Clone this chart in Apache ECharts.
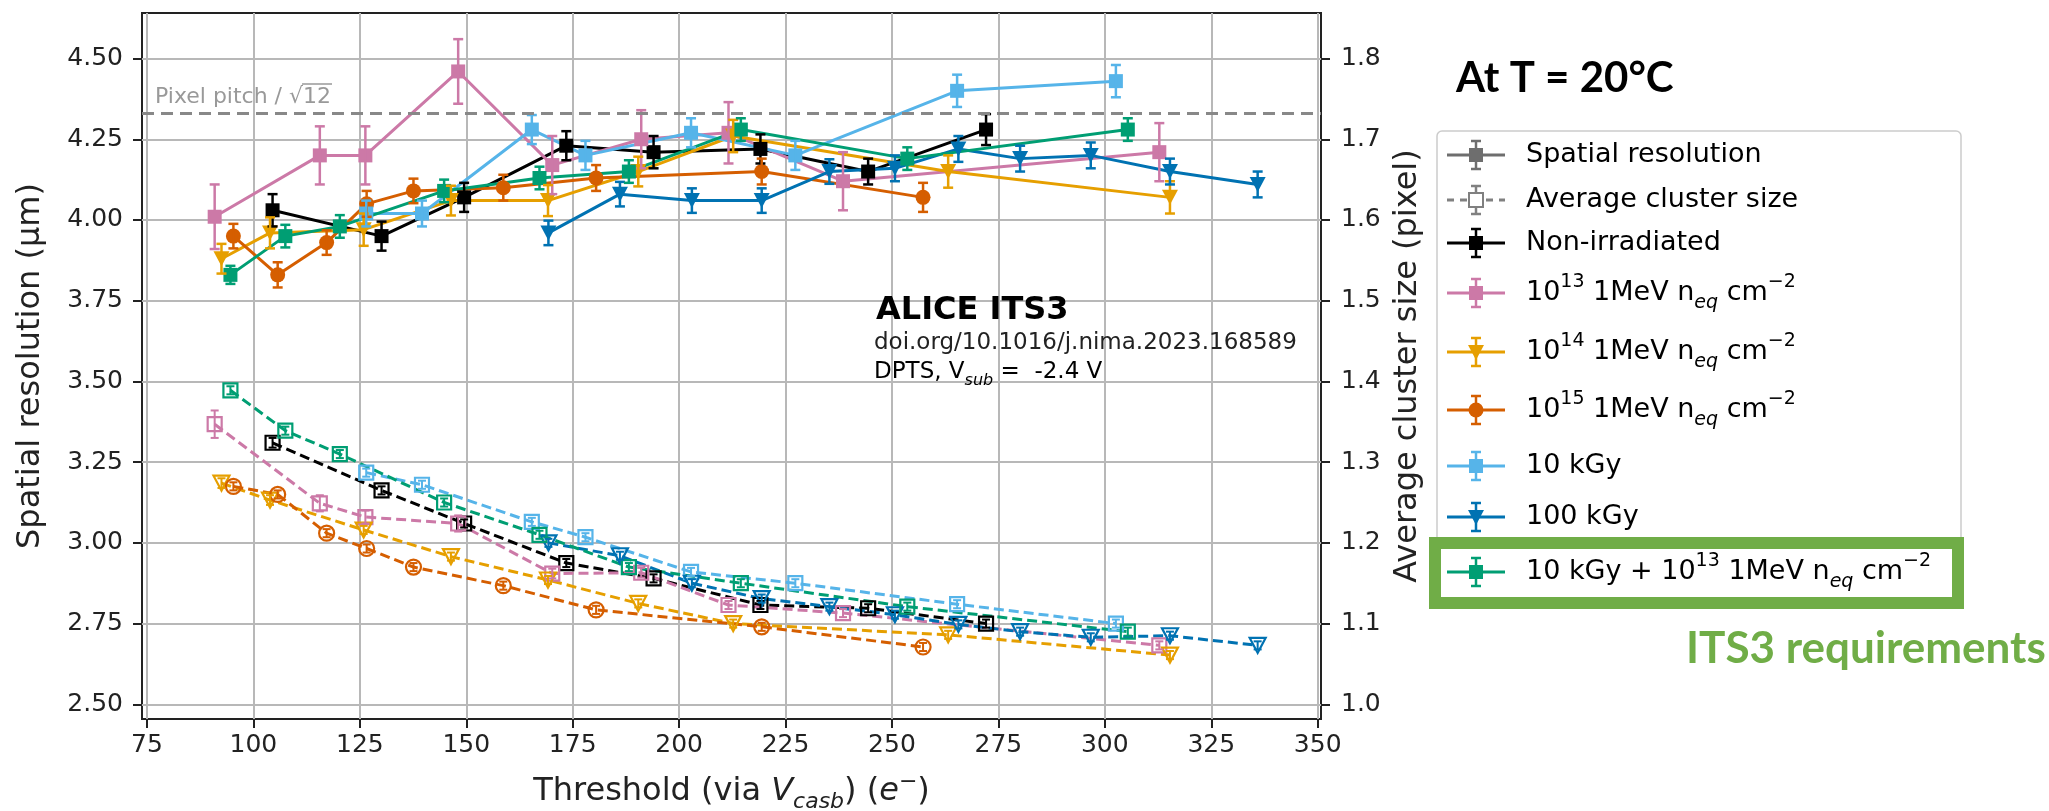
<!DOCTYPE html>
<html><head><meta charset="utf-8">
<script src="https://cdn.jsdelivr.net/npm/echarts@6/dist/echarts.min.js"></script>
<style>html,body{margin:0;padding:0;background:#fff}#c{width:2049px;height:811px}</style>
</head><body><div id="c"></div>
<script>
// ---------- tick labels ----------
const xTicks = [75, 100, 125, 150, 175, 200, 225, 250, 275, 300, 325, 350];
const resTicks = [2.5, 2.75, 3.0, 3.25, 3.5, 3.75, 4.0, 4.25, 4.5];
const clsTicks = [1.0, 1.1, 1.2, 1.3, 1.4, 1.5, 1.6, 1.7, 1.8];
const pixelPitchRes = 4.33; // 15 um / sqrt(12)

// ---------- data: Non-irradiated ----------
const nonIrrX      = [104.5, 130.1, 149.5, 173.5, 194.0, 219.1, 244.4, 272.1];
const nonIrrRes    = [4.03, 3.95, 4.07, 4.23, 4.21, 4.22, 4.15, 4.28];
const nonIrrResErr = [0.05, 0.045, 0.045, 0.045, 0.05, 0.045, 0.04, 0.048];
const nonIrrCls    = [1.324, 1.265, 1.224, 1.175, 1.156, 1.123, 1.119, 1.100];
const nonIrrClsErr = [0.006, 0.005, 0.005, 0.005, 0.005, 0.005, 0.005, 0.005];

// ---------- 1e13 ----------
const neq13X      = [90.9, 115.6, 126.3, 148.1, 170.2, 191.1, 211.6, 238.5, 312.8];
const neq13Res    = [4.01, 4.20, 4.20, 4.46, 4.17, 4.25, 4.27, 4.12, 4.21];
const neq13ResErr = [0.10, 0.09, 0.09, 0.10, 0.09, 0.09, 0.095, 0.09, 0.09];
const neq13Cls    = [1.347, 1.249, 1.232, 1.224, 1.162, 1.163, 1.123, 1.113, 1.073];
const neq13ClsErr = [0.017, 0.010, 0.008, 0.010, 0.006, 0.006, 0.005, 0.005, 0.005];

// ---------- 1e14 ----------
const neq14X      = [92.5, 103.9, 125.9, 146.4, 169.2, 190.4, 212.7, 263.2, 315.3];
const neq14Res    = [3.88, 3.96, 3.97, 4.06, 4.06, 4.15, 4.26, 4.15, 4.07];
const neq14ResErr = [0.046, 0.048, 0.05, 0.046, 0.048, 0.046, 0.05, 0.05, 0.05];
const neq14Cls    = [1.274, 1.253, 1.216, 1.183, 1.154, 1.125, 1.100, 1.086, 1.061];
const neq14ClsErr = [0.006, 0.006, 0.005, 0.005, 0.005, 0.005, 0.005, 0.005, 0.005];

// ---------- 1e15 ----------
const neq15X      = [95.3, 105.7, 117.2, 126.6, 137.6, 158.7, 180.5, 219.4, 257.3];
const neq15Res    = [3.95, 3.83, 3.93, 4.05, 4.09, 4.10, 4.13, 4.15, 4.07];
const neq15ResErr = [0.038, 0.039, 0.038, 0.04, 0.038, 0.04, 0.04, 0.04, 0.045];
const neq15Cls    = [1.270, 1.260, 1.212, 1.193, 1.170, 1.147, 1.117, 1.096, 1.071];
const neq15ClsErr = [0.005, 0.005, 0.005, 0.005, 0.005, 0.005, 0.005, 0.005, 0.005];

// ---------- 10 kGy ----------
const kGy10X      = [126.5, 139.6, 165.4, 178.0, 202.8, 227.3, 265.3, 302.6];
const kGy10Res    = [4.02, 4.02, 4.28, 4.20, 4.27, 4.20, 4.40, 4.43];
const kGy10ResErr = [0.04, 0.04, 0.045, 0.045, 0.045, 0.045, 0.05, 0.05];
const kGy10Cls    = [1.287, 1.272, 1.226, 1.207, 1.164, 1.150, 1.124, 1.100];
const kGy10ClsErr = [0.005, 0.005, 0.005, 0.005, 0.005, 0.005, 0.005, 0.005];

// ---------- 100 kGy ----------
const kGy100X      = [169.3, 186.1, 203.0, 219.4, 235.3, 250.7, 265.6, 280.1, 296.7, 315.3, 335.9];
const kGy100Res    = [3.96, 4.08, 4.06, 4.06, 4.15, 4.16, 4.22, 4.19, 4.20, 4.15, 4.11];
const kGy100ResErr = [0.038, 0.038, 0.038, 0.038, 0.038, 0.04, 0.04, 0.04, 0.04, 0.04, 0.04];
const kGy100Cls    = [1.200, 1.184, 1.150, 1.131, 1.121, 1.111, 1.099, 1.090, 1.083, 1.085, 1.073];
const kGy100ClsErr = [0.005, 0.005, 0.005, 0.005, 0.005, 0.005, 0.005, 0.005, 0.005, 0.005, 0.005];

// ---------- 10 kGy + 1e13 ----------
const comboX      = [94.6, 107.5, 120.3, 144.8, 167.2, 188.2, 214.5, 253.6, 305.4];
const comboRes    = [3.83, 3.95, 3.98, 4.09, 4.13, 4.15, 4.28, 4.19, 4.28];
const comboResErr = [0.028, 0.035, 0.035, 0.035, 0.035, 0.035, 0.035, 0.035, 0.035];
const comboCls    = [1.389, 1.339, 1.310, 1.250, 1.210, 1.170, 1.150, 1.121, 1.090];
const comboClsErr = [0.005, 0.005, 0.005, 0.005, 0.005, 0.005, 0.005, 0.005, 0.005];

const groups = [
  {color:'#000000', marker:'s', x:nonIrrX, res:nonIrrRes, resErr:nonIrrResErr, cls:nonIrrCls, clsErr:nonIrrClsErr},
  {color:'#CC79A7', marker:'s', x:neq13X, res:neq13Res, resErr:neq13ResErr, cls:neq13Cls, clsErr:neq13ClsErr},
  {color:'#E69F00', marker:'v', x:neq14X, res:neq14Res, resErr:neq14ResErr, cls:neq14Cls, clsErr:neq14ClsErr},
  {color:'#D55E00', marker:'o', x:neq15X, res:neq15Res, resErr:neq15ResErr, cls:neq15Cls, clsErr:neq15ClsErr},
  {color:'#56B4E9', marker:'s', x:kGy10X, res:kGy10Res, resErr:kGy10ResErr, cls:kGy10Cls, clsErr:kGy10ClsErr},
  {color:'#0072B2', marker:'v', x:kGy100X, res:kGy100Res, resErr:kGy100ResErr, cls:kGy100Cls, clsErr:kGy100ClsErr},
  {color:'#009E73', marker:'s', x:comboX, res:comboRes, resErr:comboResErr, cls:comboCls, clsErr:comboClsErr}
];

const FONT = 'DejaVu Sans';
const TXT = '#222222';

function sym(m) {
  if (m === 's') return {symbol:'rect', symbolSize:[14,14], symbolRotate:0};
  if (m === 'v') return {symbol:'triangle', symbolSize:[16,15], symbolRotate:180};
  return {symbol:'circle', symbolSize:15, symbolRotate:0};
}

function errSeries(xs, ys, es, color, axis, lw, cap) {
  return {
    type:'custom', yAxisIndex:axis, silent:true, z:4, animation:false,
    data: xs.map((x,i)=>[x, ys[i]-es[i], ys[i]+es[i]]),
    encode:{x:0, y:[1,2]},
    renderItem:(params, api)=>{
      const x = api.value(0);
      const lo = api.coord([x, api.value(1)]);
      const hi = api.coord([x, api.value(2)]);
      const st = {stroke:color, lineWidth:lw};
      return {type:'group', children:[
        {type:'line', shape:{x1:lo[0], y1:lo[1], x2:hi[0], y2:hi[1]}, style:st},
        {type:'line', shape:{x1:lo[0]-cap, y1:lo[1], x2:lo[0]+cap, y2:lo[1]}, style:st},
        {type:'line', shape:{x1:hi[0]-cap, y1:hi[1], x2:hi[0]+cap, y2:hi[1]}, style:st}
      ]};
    }
  };
}

const series = [];
groups.forEach((g) => {
  const s = sym(g.marker);
  series.push(Object.assign({
    type:'line', yAxisIndex:1, silent:true, animation:false, showAllSymbol:true, z:2,
    data: g.x.map((x,i)=>[x, g.cls[i]]),
    lineStyle:{color:g.color, width:3, type:[10,5]},
    itemStyle:{color:'rgba(255,255,255,0)', borderColor:g.color, borderWidth:2.2},
    emphasis:{disabled:true}
  }, s));
  series.push(errSeries(g.x, g.cls, g.clsErr, g.color, 1, 2, 4));
});
groups.forEach((g) => {
  const s = sym(g.marker);
  series.push(Object.assign({
    type:'line', yAxisIndex:0, silent:true, animation:false, showAllSymbol:true, z:3,
    data: g.x.map((x,i)=>[x, g.res[i]]),
    lineStyle:{color:g.color, width:3},
    itemStyle:{color:g.color, borderWidth:0},
    emphasis:{disabled:true}
  }, s));
  series.push(errSeries(g.x, g.res, g.resErr, g.color, 0, 2.5, 5));
});
// pixel pitch reference line
series.push({
  type:'line', yAxisIndex:0, data:[], silent:true, animation:false,
  markLine:{silent:true, symbol:'none', animation:false, label:{show:false},
    lineStyle:{color:'#888888', type:[12,7], width:3},
    data:[{yAxis:pixelPitchRes}]}
});

// ---------- legend (drawn) ----------
const LX0 = 1447, LX1 = 1505, LXM = 1476, LT = 1526;
const legendItems = [
  {y:155, color:'#6e6e6e', m:'s', dashed:false, hollow:false, text:'{b|Spatial resolution}'},
  {y:200, color:'#808080', m:'s', dashed:true, hollow:true, text:'{b|Average cluster size}'},
  {y:243, color:'#000000', m:'s', text:'{b|Non-irradiated}'},
  {y:293, color:'#CC79A7', m:'s', text:'{b|10}{sup|13}{b| 1MeV n}{sub|eq}{b| cm}{sup|−2}'},
  {y:352, color:'#E69F00', m:'v', text:'{b|10}{sup|14}{b| 1MeV n}{sub|eq}{b| cm}{sup|−2}'},
  {y:410, color:'#D55E00', m:'o', text:'{b|10}{sup|15}{b| 1MeV n}{sub|eq}{b| cm}{sup|−2}'},
  {y:466, color:'#56B4E9', m:'s', text:'{b|10 kGy}'},
  {y:517, color:'#0072B2', m:'v', text:'{b|100 kGy}'},
  {y:572, color:'#009E73', m:'s', text:'{b|10 kGy + 10}{sup|13}{b| 1MeV n}{sub|eq}{b| cm}{sup|−2}'}
];
const rich = {
  b:{fontFamily:FONT, fontSize:27, color:TXT, verticalAlign:'middle', lineHeight:40},
  sup:{fontFamily:FONT, fontSize:19, color:TXT, verticalAlign:'top', lineHeight:22},
  sub:{fontFamily:FONT, fontSize:19, color:TXT, verticalAlign:'bottom', lineHeight:24, fontStyle:'italic'}
};
const graphics = [];
graphics.push({type:'rect', z:10, silent:true, shape:{x:1437, y:131, width:524, height:472, r:5},
  style:{fill:'#ffffff', stroke:'#cccccc', lineWidth:1.5}});
graphics.push({type:'rect', z:11, silent:true, shape:{x:1435, y:543, width:523, height:60},
  style:{fill:'#ffffff', stroke:'#70AD47', lineWidth:12}});
legendItems.forEach(it => {
  const y = it.y, c = it.color;
  graphics.push({type:'line', z:12, silent:true, shape:{x1:LX0, y1:y, x2:LX1, y2:y},
    style:{stroke:c, lineWidth:3, lineDash: it.dashed ? [7,6] : null}});
  graphics.push({type:'line', z:12, silent:true, shape:{x1:LXM, y1:y-14, x2:LXM, y2:y+14}, style:{stroke:c, lineWidth:2.5}});
  graphics.push({type:'line', z:12, silent:true, shape:{x1:LXM-5, y1:y-14, x2:LXM+5, y2:y-14}, style:{stroke:c, lineWidth:2.5}});
  graphics.push({type:'line', z:12, silent:true, shape:{x1:LXM-5, y1:y+14, x2:LXM+5, y2:y+14}, style:{stroke:c, lineWidth:2.5}});
  const fill = it.hollow ? '#ffffff' : c;
  const mst = {fill:fill, stroke:c, lineWidth: it.hollow ? 2 : 0};
  if (it.m === 's') graphics.push({type:'rect', z:13, silent:true, shape:{x:LXM-7, y:y-7, width:14, height:14}, style:mst});
  else if (it.m === 'o') graphics.push({type:'circle', z:13, silent:true, shape:{cx:LXM, cy:y, r:7.5}, style:mst});
  else graphics.push({type:'polygon', z:13, silent:true, shape:{points:[[LXM-8,y-7],[LXM+8,y-7],[LXM,y+8]]}, style:mst});
  graphics.push({type:'text', z:13, silent:true, x:LT, y:y,
    style:{text:it.text, rich:rich, align:'left', verticalAlign:'middle'}});
});

// pixel pitch label with a drawn radical overline
const mctx = document.createElement('canvas').getContext('2d');
mctx.font = '22px "DejaVu Sans"';
const ppLead = 'Pixel pitch / √';
const ppW1 = mctx.measureText(ppLead).width;
const ppW2 = mctx.measureText('12').width;
const PPX = 155, PPY = 97;
graphics.push({type:'text', silent:true, z:5, x:PPX, y:PPY,
  style:{text:ppLead, fontFamily:FONT, fontSize:22, fill:'#999999', align:'left', verticalAlign:'middle'}});
graphics.push({type:'text', silent:true, z:5, x:PPX + ppW1, y:PPY,
  style:{text:'12', fontFamily:FONT, fontSize:22, fill:'#999999', align:'left', verticalAlign:'middle'}});
graphics.push({type:'line', silent:true, z:5, shape:{x1:PPX + ppW1 - 1, y1:PPY - 13, x2:PPX + ppW1 + ppW2 + 1, y2:PPY - 13},
  style:{stroke:'#999999', lineWidth:1.5}});

graphics.push({type:'text', silent:true, z:5, x:876, y:311,
  style:{text:'ALICE ITS3', fontFamily:FONT, fontWeight:'bold', fontSize:32, fill:'#000000', align:'left', verticalAlign:'middle'}});
graphics.push({type:'text', silent:true, z:5, x:874, y:343,
  style:{text:'doi.org/10.1016/j.nima.2023.168589', fontFamily:FONT, fontSize:23, fill:TXT, align:'left', verticalAlign:'middle'}});
graphics.push({type:'text', silent:true, z:5, x:874, y:372,
  style:{text:'{b|DPTS, V}{sub|sub}{b| =  -2.4 V}', align:'left', verticalAlign:'middle',
    rich:{b:{fontFamily:FONT, fontSize:23, color:TXT, verticalAlign:'middle', lineHeight:34},
          sub:{fontFamily:FONT, fontSize:16, color:TXT, fontStyle:'italic', verticalAlign:'bottom', lineHeight:21}}}});
graphics.push({type:'text', silent:true, z:5, x:1456, y:78,
  style:{text:'At T = 20°C', fontFamily:'Lato', fontWeight:'bold', fontSize:42, fill:'#000000', align:'left', verticalAlign:'middle'}});
graphics.push({type:'text', silent:true, z:5, x:1686, y:649,
  style:{text:'ITS3 requirements', fontFamily:'Lato', fontWeight:'bold', fontSize:44, fill:'#70AD47', align:'left', verticalAlign:'middle'}});

const axisNameStyle = {fontFamily:FONT, fontSize:32, color:TXT};

const option = {
  backgroundColor:'#ffffff',
  animation:false,
  grid:{left:142, top:13, width:1179, height:706, show:true, borderColor:'#222222', borderWidth:2,
        backgroundColor:'rgba(0,0,0,0)', containLabel:false, outerBoundsMode:'none'},
  xAxis:{
    type:'value', min:73.83, max:350.78, position:'bottom',
    axisLine:{show:false},
    axisTick:{show:true, length:9, customValues:xTicks, lineStyle:{color:TXT, width:2}},
    axisLabel:{customValues:xTicks, fontFamily:FONT, fontSize:25, color:TXT, margin:14},
    splitLine:{show:true, lineStyle:{color:'#b8b8b8', width:2}},
    name:'{b|Threshold (via }{it|V}{sub|casb}{b|) (}{it|e}{sup|−}{b|)}',
    nameLocation:'middle', nameGap:52,
    nameTextStyle:{fontFamily:FONT, fontSize:32, color:TXT, rich:{
      b:{fontFamily:FONT, fontSize:32, color:TXT, verticalAlign:'middle', lineHeight:42},
      it:{fontFamily:FONT, fontSize:32, color:TXT, fontStyle:'italic', verticalAlign:'middle', lineHeight:42},
      sub:{fontFamily:FONT, fontSize:22, color:TXT, fontStyle:'italic', verticalAlign:'bottom', lineHeight:28},
      sup:{fontFamily:FONT, fontSize:22, color:TXT, verticalAlign:'top', lineHeight:25}}}
  },
  yAxis:[{
    type:'value', min:2.4545, max:4.641, position:'left',
    axisLine:{show:false},
    axisTick:{show:true, length:9, customValues:resTicks, lineStyle:{color:TXT, width:2}},
    axisLabel:{customValues:resTicks, fontFamily:FONT, fontSize:25, color:TXT, margin:19,
      formatter:(v)=>v.toFixed(2)},
    splitLine:{show:true, lineStyle:{color:'#b8b8b8', width:2}},
    name:'Spatial resolution (µm)', nameLocation:'middle', nameGap:95, nameRotate:90,
    nameTextStyle:axisNameStyle
  },{
    type:'value', min:0.9818, max:1.8564, position:'right',
    axisLine:{show:false},
    axisTick:{show:true, length:9, customValues:clsTicks, lineStyle:{color:TXT, width:2}},
    axisLabel:{customValues:clsTicks, fontFamily:FONT, fontSize:25, color:TXT, margin:20,
      formatter:(v)=>v.toFixed(1)},
    splitLine:{show:false},
    name:'Average cluster size (pixel)', nameLocation:'middle', nameGap:66, nameRotate:90,
    nameTextStyle:axisNameStyle
  }],
  series:series,
  graphic:graphics
};

const chart = echarts.init(document.getElementById('c'), null, {renderer:'canvas', width:2049, height:811});
chart.setOption(option);
</script>
</body></html>
